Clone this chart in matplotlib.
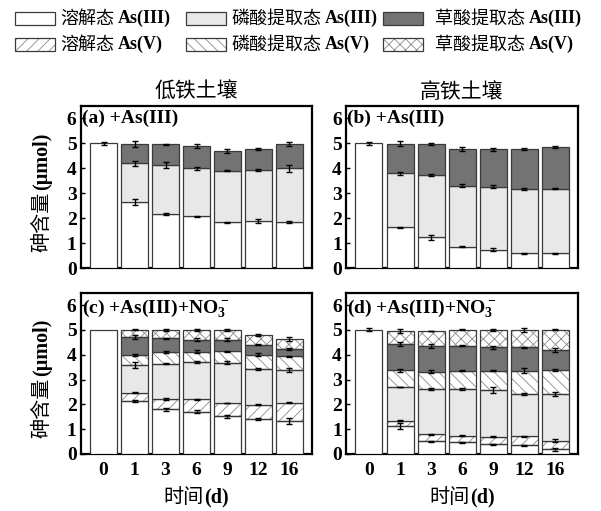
import numpy as np
import matplotlib
matplotlib.use("Agg")
import matplotlib.pyplot as plt
from matplotlib.patches import Rectangle

plt.rcParams['font.family'] = ['Liberation Serif', 'Noto Sans CJK SC', 'DejaVu Sans']
plt.rcParams['hatch.linewidth'] = 0.6

days = ['0', '1', '3', '6', '9', '12', '16']
col_titles = ['低铁土壤', '高铁土壤']
panel_labels = ['(a) +As(III)', '(b) +As(III)',
                r'(c) +As(III)+NO$\mathregular{_3^-}$', r'(d) +As(III)+NO$\mathregular{_3^-}$']
legend_cn = ['溶解态', '磷酸提取态', '草酸提取态', '溶解态', '磷酸提取态', '草酸提取态']
legend_en = ['As(III)', 'As(III)', 'As(III)', 'As(V)', 'As(V)', 'As(V)']

# cumulative tops of stacked layers (μmol)
# panel a: low Fe, +As(III)
a_diss3 = [5.0, 2.67, 2.16, 2.08, 1.84, 1.88, 1.85]
a_phos3 = [5.0, 4.20, 4.13, 4.00, 3.90, 3.94, 4.00]
a_oxal3 = [5.0, 4.98, 4.97, 4.90, 4.70, 4.78, 4.98]
a_diss3_err = [0.07, 0.12, 0.04, 0.01, 0.02, 0.08, 0.05]
a_phos3_err = [0, 0.10, 0.12, 0.06, 0.02, 0.03, 0.15]
a_oxal3_err = [0, 0.12, 0.02, 0.07, 0.09, 0.05, 0.09]

# panel b: high Fe, +As(III)
b_diss3 = [5.0, 1.64, 1.24, 0.87, 0.75, 0.61, 0.61]
b_phos3 = [5.0, 3.80, 3.72, 3.31, 3.26, 3.19, 3.18]
b_oxal3 = [5.0, 4.98, 4.97, 4.76, 4.77, 4.78, 4.86]
b_diss3_err = [0.06, 0.02, 0.10, 0.02, 0.05, 0.02, 0.02]
b_phos3_err = [0, 0.05, 0.04, 0.05, 0.06, 0.04, 0.02]
b_oxal3_err = [0, 0.10, 0.03, 0.08, 0.06, 0.05, 0.03]

# panel c: low Fe, +As(III)+NO3-
c_diss3 = [5.0, 2.14, 1.80, 1.71, 1.52, 1.40, 1.34]
c_diss5 = [5.0, 2.47, 2.22, 2.20, 2.05, 1.99, 2.06]
c_phos3 = [5.0, 3.57, 3.64, 3.72, 3.68, 3.42, 3.40]
c_phos5 = [5.0, 3.98, 4.10, 4.13, 4.14, 4.00, 3.93]
c_oxal3 = [5.0, 4.71, 4.67, 4.60, 4.60, 4.41, 4.24]
c_oxal5 = [5.0, 5.00, 5.00, 5.00, 5.00, 4.80, 4.63]
c_diss3_err = [0, 0.03, 0.05, 0.05, 0.05, 0.05, 0.12]
c_diss5_err = [0, 0.02, 0.05, 0.02, 0.01, 0.03, 0.02]
c_phos3_err = [0, 0.12, 0.02, 0.04, 0.06, 0.05, 0.08]
c_phos5_err = [0, 0.05, 0.04, 0.05, 0.02, 0.05, 0.03]
c_oxal3_err = [0, 0.07, 0.02, 0.06, 0.06, 0.03, 0.04]
c_oxal5_err = [0, 0.02, 0.04, 0.03, 0.04, 0.03, 0.07]

# panel d: high Fe, +As(III)+NO3-
d_diss3 = [5.0, 1.12, 0.52, 0.47, 0.40, 0.36, 0.19]
d_diss5 = [5.0, 1.34, 0.79, 0.74, 0.70, 0.71, 0.54]
d_phos3 = [5.0, 2.70, 2.61, 2.61, 2.57, 2.43, 2.40]
d_phos5 = [5.0, 3.37, 3.32, 3.36, 3.36, 3.36, 3.38]
d_oxal3 = [5.0, 4.44, 4.35, 4.37, 4.31, 4.31, 4.19]
d_oxal5 = [5.0, 4.95, 4.95, 5.00, 5.00, 5.00, 5.00]
d_diss3_err = [0.06, 0.13, 0.02, 0.01, 0.02, 0.02, 0.05]
d_diss5_err = [0, 0.03, 0.02, 0.02, 0.03, 0.03, 0.05]
d_phos3_err = [0, 0.02, 0.03, 0.05, 0.12, 0.04, 0.08]
d_phos5_err = [0, 0.05, 0.05, 0.03, 0.03, 0.10, 0.03]
d_oxal3_err = [0, 0.08, 0.08, 0.03, 0.06, 0.02, 0.07]
d_oxal5_err = [0, 0.07, 0.01, 0.02, 0.05, 0.07, 0.02]

# styles: (facecolor, hatch)
styles = {
    'diss3': ('white', None),
    'diss5': ('white', '///'),
    'phos3': ('#e8e8e8', None),
    'phos5': ('white', '\\\\\\'),
    'oxal3': ('#737373', None),
    'oxal5': ('white', 'xxx'),
}

W, H = 601, 511
fig = plt.figure(figsize=(W / 100, H / 100), dpi=100)


def fx(px):
    return px / W


def fy(py):
    return 1 - py / H


axes_px = [  # left, right, top, bottom
    (80.7, 311.7, 106.0, 268.3),
    (346.0, 577.7, 106.0, 268.3),
    (80.7, 311.7, 292.7, 454.0),
    (346.0, 577.7, 292.7, 454.0),
]

panels = [
    [('diss3', a_diss3, a_diss3_err), ('phos3', a_phos3, a_phos3_err), ('oxal3', a_oxal3, a_oxal3_err)],
    [('diss3', b_diss3, b_diss3_err), ('phos3', b_phos3, b_phos3_err), ('oxal3', b_oxal3, b_oxal3_err)],
    [('diss3', c_diss3, c_diss3_err), ('diss5', c_diss5, c_diss5_err), ('phos3', c_phos3, c_phos3_err),
     ('phos5', c_phos5, c_phos5_err), ('oxal3', c_oxal3, c_oxal3_err), ('oxal5', c_oxal5, c_oxal5_err)],
    [('diss3', d_diss3, d_diss3_err), ('diss5', d_diss5, d_diss5_err), ('phos3', d_phos3, d_phos3_err),
     ('phos5', d_phos5, d_phos5_err), ('oxal3', d_oxal3, d_oxal3_err), ('oxal5', d_oxal5, d_oxal5_err)],
]

x = np.arange(len(days))
bw = 0.87
axes = []
for i, (l, r, t, b) in enumerate(axes_px):
    ax = fig.add_axes([fx(l), fy(b), (r - l) / W, (b - t) / H])
    axes.append(ax)
    bottom = np.zeros(len(days))
    err_items = []
    for key, tops, errs in panels[i]:
        tops = np.array(tops, float)
        errs = np.array(errs, float)
        h = tops - bottom
        m = h > 1e-9
        fc, hatch = styles[key]
        if hatch:
            ax.bar(x[m], h[m], bottom=bottom[m], width=bw, color=fc, hatch=hatch,
                   edgecolor='#8a8a8a', linewidth=0, zorder=2)
            ax.bar(x[m], h[m], bottom=bottom[m], width=bw, fill=False,
                   edgecolor='#3a3a3a', linewidth=0.9, zorder=3)
        else:
            ax.bar(x[m], h[m], bottom=bottom[m], width=bw, color=fc,
                   edgecolor='#3a3a3a', linewidth=0.9, zorder=3)
        me = errs > 0
        err_items.append((x[me], tops[me], errs[me]))
        bottom = np.where(m, tops, bottom)
    for ex, ey, ee in err_items:
        ax.errorbar(ex, ey, yerr=ee, fmt='none', ecolor='black', elinewidth=1.0,
                    capsize=2, capthick=1.0, zorder=5)
    ax.set_xlim(-0.74, 6.72)
    ax.set_ylim(0, 6.5)
    ax.set_yticks(range(7))
    ax.set_xticks(x)
    ax.tick_params(direction='in', length=3, width=1, top=False, right=False)
    for lab in ax.get_yticklabels():
        lab.set_fontweight('bold')
        lab.set_fontsize(14)
    if i >= 2:
        ax.set_xticklabels(days, fontsize=14, fontweight='bold')
    else:
        ax.set_xticklabels([])
    ax.tick_params(axis='y', pad=3)
    ax.tick_params(axis='x', pad=6)
    for s in ax.spines.values():
        s.set_linewidth(1.6)
    ax.text(0.005, 0.975, panel_labels[i], transform=ax.transAxes, ha='left', va='top',
            fontsize=14, fontweight='bold', zorder=6)

fig.canvas.draw()
renderer = fig.canvas.get_renderer()


def mixed(xp, yp, cn, en, size, center=True, rotation=0, gap=3):
    """Chinese regular part + bold Latin part, placed at pixel coords."""
    t1 = fig.text(0, 0, cn, fontsize=size, family=['Noto Sans CJK SC'], rotation=rotation,
                  ha='left', va='center', rotation_mode='anchor')
    t2 = fig.text(0, 0, en, fontsize=size, family=['Liberation Serif'], fontweight='bold',
                  rotation=rotation, ha='left', va='center', rotation_mode='anchor')
    e1 = t1.get_window_extent(renderer)
    e2 = t2.get_window_extent(renderer)
    if rotation == 0:
        total = e1.width + gap + e2.width
        x0 = xp - total / 2 if center else xp
        t1.set_position((fx(x0), fy(yp)))
        t2.set_position((fx(x0 + e1.width + gap), fy(yp)))
    else:
        total = e1.height + gap + e2.height
        y0 = yp + total / 2 if center else yp
        t1.set_position((fx(xp), fy(y0)))
        t2.set_position((fx(xp), fy(y0 - e1.height - gap)))


# column titles
for j, (l, r, t, b) in enumerate(axes_px[:2]):
    fig.text(fx((l + r) / 2), fy(92), col_titles[j], fontsize=15,
             family=['Noto Sans CJK SC'], ha='center', va='center')

# x labels
for (l, r, t, b) in axes_px[2:]:
    mixed((l + r) / 2, 497, '时间', '(d)', 14.5, gap=1)

# y labels
for (l, r, t, b) in [axes_px[0], axes_px[2]]:
    mixed(42, (t + b) / 2 + 5, '砷含量', '(μmol)', 14.5, rotation=90, gap=1)

# legend
leg_cols_patch = [15, 186, 383]
leg_cols_text = [60, 231, 435]
leg_rows = [18.5, 44.5]
keys = ['diss3', 'phos3', 'oxal3', 'diss5', 'phos5', 'oxal5']
for k, key in enumerate(keys):
    row, col = divmod(k, 3)
    fc, hatch = styles[key]
    px0 = leg_cols_patch[col]
    py = leg_rows[row]
    rect_xy = (fx(px0), fy(py + 6.5))
    if hatch:
        fig.add_artist(Rectangle(rect_xy, 40 / W, 13 / H, transform=fig.transFigure,
                                 facecolor=fc, hatch=hatch, edgecolor='#8a8a8a', linewidth=0))
        fig.add_artist(Rectangle(rect_xy, 40 / W, 13 / H, transform=fig.transFigure,
                                 fill=False, edgecolor='#3a3a3a', linewidth=0.9))
    else:
        fig.add_artist(Rectangle(rect_xy, 40 / W, 13 / H, transform=fig.transFigure,
                                 facecolor=fc, edgecolor='#3a3a3a', linewidth=0.9))
    mixed(leg_cols_text[col], py, legend_cn[k], legend_en[k], 13, center=False, gap=4)

fig.savefig('out.png', dpi=100)
